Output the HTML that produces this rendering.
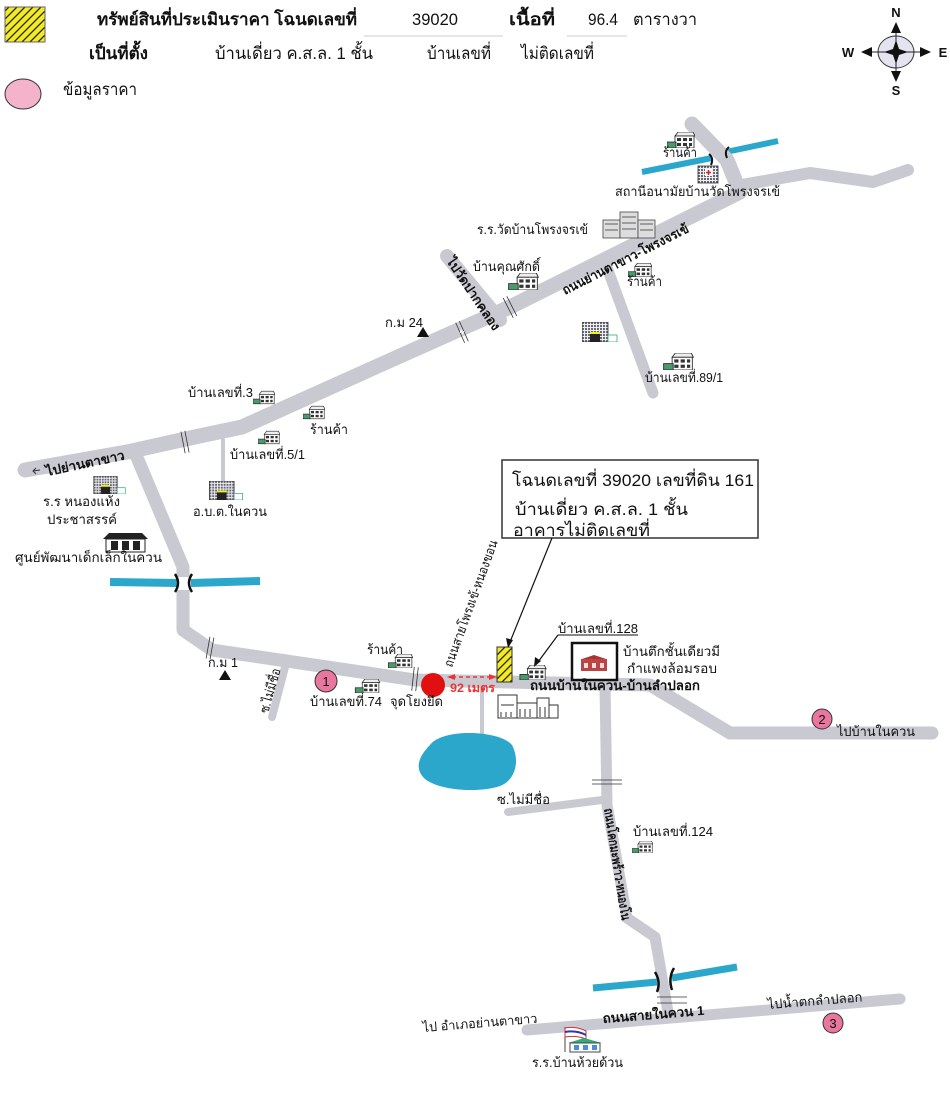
<!DOCTYPE html>
<html><head><meta charset="utf-8"><style>
html,body{margin:0;padding:0;background:#fff;}
svg{display:block;}
text{font-family:"Liberation Sans","DejaVu Sans","Noto Sans CJK SC",sans-serif;fill:#111;}
.l{font-size:13px;}
.b{font-size:13px;font-weight:bold;}
.h{font-size:17px;}
.hb{font-size:17px;font-weight:bold;}
.r{fill:none;stroke:#c9c9d2;stroke-linecap:round;stroke-linejoin:round;}
.w{fill:none;stroke:#2ba7cc;stroke-linecap:butt;}
</style></head><body>
<svg width="950" height="1106" viewBox="0 0 950 1106" xmlns="http://www.w3.org/2000/svg">
<defs>
<pattern id="hatch" width="8" height="8" patternUnits="userSpaceOnUse">
<rect width="8" height="8" fill="#f2ea28"/>
<path d="M-2,2 L2,-2 M0,8 L8,0 M6,10 L10,6" stroke="#222" stroke-width="1.3"/>
</pattern>
<pattern id="grid" width="3" height="3" patternUnits="userSpaceOnUse">
<rect width="3" height="3" fill="#eee"/><rect width="2" height="2" fill="#667"/>
</pattern>
<symbol id="hs" viewBox="0 0 28 16">
<path d="M8 4 L11 0 L26 0 L28 4 Z" fill="#eee" stroke="#222" stroke-width=".8"/>
<rect x="8" y="4" width="19" height="12" fill="#fff" stroke="#222" stroke-width=".8"/>
<rect x="10" y="6" width="4" height="3" fill="#333"/><rect x="16" y="6" width="4" height="3" fill="#333"/><rect x="22" y="6" width="3" height="3" fill="#333"/>
<rect x="10" y="11" width="4" height="3" fill="#333"/><rect x="16" y="11" width="4" height="3" fill="#333"/><rect x="22" y="11" width="3" height="3" fill="#333"/>
<rect x="0" y="10" width="9" height="6" fill="#4a9a6a" stroke="#222" stroke-width=".8"/>
</symbol>
<symbol id="of" viewBox="0 0 36 20">
<rect x="0" y="0" width="26" height="20" fill="url(#grid)" stroke="#333" stroke-width=".8"/>
<rect x="8" y="11" width="10" height="9" fill="#222"/><rect x="8" y="10" width="10" height="2" fill="#ee2"/>
<rect x="26" y="13" width="9" height="7" fill="#fff" stroke="#3a7" stroke-width=".8"/>
</symbol>
</defs>

<!-- Header -->
<rect x="5" y="7" width="40" height="35" fill="url(#hatch)" stroke="#666" stroke-width="1"/>
<text class="hb" x="97" y="25" textLength="260" lengthAdjust="spacingAndGlyphs">ทรัพย์สินที่ประเมินราคา โฉนดเลขที่</text>
<text class="h" x="412" y="25" textLength="46" lengthAdjust="spacingAndGlyphs">39020</text>
<line x1="364" y1="36" x2="503" y2="36" stroke="#ccc" stroke-width="1"/>
<text class="hb" x="509" y="25" textLength="46" lengthAdjust="spacingAndGlyphs">เนื้อที่</text>
<text class="h" x="588" y="25" textLength="30" lengthAdjust="spacingAndGlyphs">96.4</text>
<line x1="567" y1="36" x2="627" y2="36" stroke="#ccc" stroke-width="1"/>
<text class="h" x="633" y="25" textLength="64" lengthAdjust="spacingAndGlyphs">ตารางวา</text>
<text class="hb" x="89" y="59" textLength="59" lengthAdjust="spacingAndGlyphs">เป็นที่ตั้ง</text>
<text class="h" x="215" y="59" textLength="158" lengthAdjust="spacingAndGlyphs">บ้านเดี่ยว ค.ส.ล.  1 ชั้น</text>
<text class="h" x="427" y="59" textLength="64" lengthAdjust="spacingAndGlyphs">บ้านเลขที่</text>
<text class="h" x="521" y="59" textLength="73" lengthAdjust="spacingAndGlyphs">ไม่ติดเลขที่</text>
<ellipse cx="23" cy="94" rx="18" ry="15" fill="#f4b3cb" stroke="#333" stroke-width="1"/>
<text class="h" x="63" y="95" textLength="74" lengthAdjust="spacingAndGlyphs">ข้อมูลราคา</text>

<!-- Compass -->
<ellipse cx="896" cy="52" rx="18" ry="16" fill="#e4e4f0" stroke="#333" stroke-width="1"/>
<line x1="896" y1="28" x2="896" y2="76" stroke="#222" stroke-width="1"/>
<line x1="866" y1="52" x2="926" y2="52" stroke="#222" stroke-width="1"/>
<path d="M896,22 L891,33 L901,33 Z M896,82 L891,71 L901,71 Z M861,52 L872,47 L872,57 Z M931,52 L920,47 L920,57 Z" fill="#111"/>
<path d="M896,40 L899,49 L908,52 L899,55 L896,64 L893,55 L884,52 L893,49 Z" fill="#111"/>
<text x="896" y="17" font-size="13" font-weight="bold" text-anchor="middle">N</text>
<text x="896" y="95" font-size="13" font-weight="bold" text-anchor="middle">S</text>
<text x="848" y="57" font-size="13" font-weight="bold" text-anchor="middle">W</text>
<text x="943" y="57" font-size="13" font-weight="bold" text-anchor="middle">E</text>

<!-- Rivers -->
<path class="w" stroke-width="6" d="M642,172 L712,158 M726,152 L778,141"/>
<path class="w" stroke-width="8" d="M110,582 L177,583 M191,583 L260,581"/>
<path class="w" stroke-width="7" d="M593,988 L657,982 M672,978 L737,967"/>

<!-- Roads -->
<path class="r" stroke-width="15" d="M692,124 L727,160 L740,192 L510,307 L400,356 L242,427 L190,438 L127,452 L25,470"/>
<path class="r" stroke-width="12" d="M736,186 L810,173 L873,182 L908,170"/>
<path class="r" stroke-width="13" d="M136,455 L183,567 L183,630 L212,650 L415,680 L650,685 L730,733 L932,733"/>
<path class="r" stroke-width="11" d="M605,686 L607,805 L627,918 L655,937 L668,1012"/>
<path class="r" stroke-width="11" d="M527,1030 L900,999"/>
<path class="r" stroke-width="11" d="M605,262 L653,393"/>
<path class="r" stroke-width="14" d="M447,256 L500,320"/>
<path class="r" stroke-width="4" d="M223,440 L223,485"/>
<path class="r" stroke-width="8" d="M285,667 L272,717"/>
<path class="r" stroke-width="8" d="M602,800 L508,812"/>
<path class="r" stroke-width="4" d="M482,688 L482,737"/>

<!-- bridges -->
<rect x="178" y="577" width="11" height="13" fill="#fff"/>
<path d="M175,574 Q181,583 175,592 M192,574 Q186,583 192,592" fill="none" stroke="#111" stroke-width="2.5"/>
<path d="M709,154 Q714,158 711,165 M729,147 Q724,151 727,158" fill="none" stroke="#111" stroke-width="2"/>
<path d="M655,972 Q661,982 657,992 M674,968 Q668,978 672,990" fill="none" stroke="#111" stroke-width="2.5"/>

<!-- break marks -->
<g stroke="#333" stroke-width="0.8" fill="none">
<g transform="translate(462,332) rotate(-24)"><path d="M-2,-11 L-2,11 M2,-11 L2,11"/><path d="M-2,0 L0,-2 L0,2 L2,0" stroke="#fff" stroke-width="1"/></g>
<g transform="translate(510,307) rotate(-27)"><path d="M-2,-11 L-2,11 M2,-11 L2,11"/></g>
<g transform="translate(185,442) rotate(-11)"><path d="M-2,-11 L-2,11 M2,-11 L2,11"/></g>
<g transform="translate(210,648) rotate(10)"><path d="M-2,-11 L-2,11 M2,-11 L2,11"/></g>
<g transform="translate(415,679) rotate(6)"><path d="M-2,-12 L-2,12 M2,-12 L2,12"/></g>
<g transform="translate(607,782) rotate(90)"><path d="M-2,-15 L-2,15 M2,-15 L2,15"/></g>
<g transform="translate(672,1000) rotate(90)"><path d="M-3,-15 L-3,15 M3,-15 L3,15"/></g>
</g>

<!-- Lake -->
<path d="M430,745 C442,728 500,730 512,745 C520,760 516,780 500,786 C480,793 440,791 425,779 C413,768 420,755 430,745 Z" fill="#2ba7cc"/>

<!-- Icons -->
<use href="#hs" x="667" y="132" width="28" height="16"/>
<g transform="translate(698,166)"><rect width="20" height="17" fill="url(#grid)" stroke="#333" stroke-width=".8"/><rect x="7" y="3" width="7" height="7" fill="#fff"/><path d="M10.5,4 v5 M8,6.5 h5" stroke="#d22" stroke-width="1.6"/></g>
<g transform="translate(603,212)" fill="#ddd" stroke="#444" stroke-width=".8"><rect x="0" y="8" width="17" height="18"/><rect x="17" y="0" width="18" height="26"/><rect x="35" y="8" width="17" height="18"/>
<path d="M2,12 h13 M2,18 h13 M19,5 h14 M19,11 h14 M19,17 h14 M37,12 h13 M37,18 h13" stroke="#333"/></g>
<use href="#hs" x="507" y="273" width="33" height="17"/>
<use href="#hs" x="628" y="263" width="24" height="14"/>
<use href="#of" x="582" y="322" width="36" height="20"/>
<use href="#hs" x="662" y="353" width="33" height="17"/>
<use href="#hs" x="253" y="388" width="22" height="19"/>
<use href="#hs" x="303" y="403" width="22" height="19"/>
<use href="#hs" x="258" y="428" width="22" height="19"/>
<use href="#of" x="92" y="476" width="36" height="18"/>
<use href="#of" x="208" y="481" width="37" height="19"/>
<g transform="translate(103,533)"><path d="M0,6 L6,0 L39,0 L45,6 Z" fill="#222"/><rect x="3" y="6" width="39" height="13" fill="#fff" stroke="#222" stroke-width="1"/><rect x="8" y="8" width="7" height="9" fill="#222"/><rect x="19" y="8" width="7" height="9" fill="#222"/><rect x="30" y="8" width="7" height="9" fill="#222"/></g>
<use href="#hs" x="388" y="654" width="25" height="14"/>
<use href="#hs" x="352" y="679" width="31" height="14"/>
<use href="#hs" x="518" y="665" width="30" height="15"/>
<use href="#hs" x="632" y="841" width="21" height="12"/>
<g transform="translate(498,695)" fill="#fff" stroke="#333" stroke-width="1"><rect x="0" y="0" width="19" height="23"/><rect x="19" y="8" width="20" height="15"/><rect x="39" y="3" width="12" height="20"/><rect x="51" y="10" width="9" height="13"/><path d="M3,10 h13 M22,14 v8 M27,14 v8 M32,14 v8 M42,12 v10 M47,12 v10 M3,17 v5 M8,17 v5 M13,17 v5" /></g>
<g transform="translate(562,1027)"><line x1="3" y1="0" x2="3" y2="25" stroke="#444" stroke-width="1"/><path d="M3,1 Q14,-1 24,4 L24,12 Q14,8 3,10 Z" fill="#fff" stroke="#c33" stroke-width="1"/><path d="M3,5 Q14,3 24,8" stroke="#33a" stroke-width="2" fill="none"/><path d="M6,16 L22,11 L40,16 Z" fill="#3a7"/><rect x="8" y="16" width="30" height="9" fill="#fff" stroke="#445" stroke-width="1"/><rect x="12" y="18" width="5" height="5" fill="#4a8fd0"/><rect x="21" y="18" width="5" height="5" fill="#4a8fd0"/><rect x="30" y="18" width="5" height="5" fill="#4a8fd0"/></g>

<!-- Target property -->
<rect x="497" y="647" width="15" height="35" fill="url(#hatch)" stroke="#333" stroke-width="1"/>
<rect x="572" y="643" width="45" height="37" fill="#fff" stroke="#111" stroke-width="2.5"/>
<g transform="translate(580,655)"><path d="M2,4 L14,0 L26,4 Z" fill="#a33"/><rect x="1" y="4" width="26" height="12" fill="#b44"/><rect x="4" y="8" width="4" height="5" fill="#fdd"/><rect x="12" y="8" width="4" height="5" fill="#fdd"/><rect x="20" y="8" width="4" height="5" fill="#fdd"/></g>

<!-- Callout -->
<rect x="502" y="460" width="256" height="78" fill="#fff" stroke="#333" stroke-width="1.5"/>
<text x="512" y="486" font-size="17" textLength="242" lengthAdjust="spacingAndGlyphs">โฉนดเลขที่ 39020 เลขที่ดิน 161</text>
<text x="515" y="515" font-size="17" textLength="173" lengthAdjust="spacingAndGlyphs">บ้านเดี่ยว ค.ส.ล. 1 ชั้น</text>
<text x="513" y="536" font-size="17" textLength="137" lengthAdjust="spacingAndGlyphs">อาคารไม่ติดเลขที่</text>
<line x1="552" y1="538" x2="510" y2="642" stroke="#111" stroke-width="1.2"/>
<path d="M508,648 L506,638 L513,640 Z" fill="#111"/>
<line x1="558" y1="635" x2="638" y2="635" stroke="#111" stroke-width="1"/>
<line x1="558" y1="635" x2="538" y2="662" stroke="#111" stroke-width="1.2"/>
<path d="M534,667 L535,657 L541,661 Z" fill="#111"/>

<!-- Reference point -->
<circle cx="433" cy="685" r="12" fill="#e01010"/>
<line x1="452" y1="677" x2="492" y2="677" stroke="#e33" stroke-width="1.5" stroke-dasharray="4,3"/>
<path d="M447,677 L455,674 L455,680 Z M497,677 L489,674 L489,680 Z" fill="#e33"/>
<text x="450" y="692" font-size="12" font-weight="bold" fill="#e33" style="fill:#e33" textLength="45" lengthAdjust="spacingAndGlyphs">92 เมตร</text>

<!-- Markers -->
<circle cx="326" cy="681" r="11" fill="#e8769e" stroke="#333" stroke-width="1"/>
<text x="326" y="686" font-size="13" text-anchor="middle">1</text>
<circle cx="822" cy="719" r="10" fill="#e8769e" stroke="#333" stroke-width="1"/>
<text x="822" y="724" font-size="13" text-anchor="middle">2</text>
<circle cx="833" cy="1023" r="10" fill="#e8769e" stroke="#333" stroke-width="1"/>
<text x="833" y="1028" font-size="13" text-anchor="middle">3</text>
<path d="M423,327 L417,337 L429,337 Z M225,670 L219,680 L231,680 Z" fill="#111"/>

<!-- Labels -->
<text class="l" x="663" y="157" textLength="34" lengthAdjust="spacingAndGlyphs">ร้านค้า</text>
<text class="l" x="615" y="196" textLength="165" lengthAdjust="spacingAndGlyphs">สถานีอนามัยบ้านวัดโพรงจรเข้</text>
<text class="l" x="477" y="234" textLength="111" lengthAdjust="spacingAndGlyphs">ร.ร.วัดบ้านโพรงจรเข้</text>
<text class="l" x="473" y="271" textLength="67" lengthAdjust="spacingAndGlyphs">บ้านคุณศักดิ์</text>
<text class="l" x="627" y="286" textLength="35" lengthAdjust="spacingAndGlyphs">ร้านค้า</text>
<text class="l" x="645" y="382" textLength="78" lengthAdjust="spacingAndGlyphs">บ้านเลขที่.89/1</text>
<text class="l" x="385" y="327" textLength="38" lengthAdjust="spacingAndGlyphs">ก.ม 24</text>
<text class="l" x="188" y="397" textLength="65" lengthAdjust="spacingAndGlyphs">บ้านเลขที่.3</text>
<text class="l" x="310" y="434" textLength="38" lengthAdjust="spacingAndGlyphs">ร้านค้า</text>
<text class="l" x="230" y="459" textLength="75" lengthAdjust="spacingAndGlyphs">บ้านเลขที่.5/1</text>
<text class="l" x="43" y="506" textLength="77" lengthAdjust="spacingAndGlyphs">ร.ร หนองแห้ง</text>
<text class="l" x="47" y="524" textLength="70" lengthAdjust="spacingAndGlyphs">ประชาสรรค์</text>
<text class="l" x="15" y="562" textLength="147" lengthAdjust="spacingAndGlyphs">ศูนย์พัฒนาเด็กเล็กในควน</text>
<text class="l" x="193" y="516" textLength="74" lengthAdjust="spacingAndGlyphs">อ.บ.ต.ในควน</text>
<text class="l" x="558" y="633" textLength="80" lengthAdjust="spacingAndGlyphs">บ้านเลขที่.128</text>
<text class="l" x="623" y="656" textLength="97" lengthAdjust="spacingAndGlyphs">บ้านตึกชั้นเดียวมี</text>
<text class="l" x="627" y="673" textLength="90" lengthAdjust="spacingAndGlyphs">กำแพงล้อมรอบ</text>
<text class="b" x="530" y="690" textLength="170" lengthAdjust="spacingAndGlyphs">ถนนบ้านในควน-บ้านลำปลอก</text>
<text class="l" x="367" y="654" textLength="36" lengthAdjust="spacingAndGlyphs">ร้านค้า</text>
<text class="l" x="310" y="706" textLength="72" lengthAdjust="spacingAndGlyphs">บ้านเลขที่.74</text>
<text class="l" x="390" y="706" textLength="53" lengthAdjust="spacingAndGlyphs">จุดโยงยึด</text>
<text class="l" x="208" y="667" textLength="30" lengthAdjust="spacingAndGlyphs">ก.ม 1</text>
<text class="l" x="837" y="736" textLength="78" lengthAdjust="spacingAndGlyphs">ไปบ้านในควน</text>
<text class="l" x="497" y="804" textLength="53" lengthAdjust="spacingAndGlyphs">ซ.ไม่มีชื่อ</text>
<text class="l" x="633" y="836" textLength="80" lengthAdjust="spacingAndGlyphs">บ้านเลขที่.124</text>
<text class="l" x="532" y="1067" textLength="91" lengthAdjust="spacingAndGlyphs">ร.ร.บ้านห้วยด้วน</text>

<!-- Rotated road labels -->
<text class="b" transform="translate(565,295) rotate(-27)" textLength="140" lengthAdjust="spacingAndGlyphs">ถนนย่านตาขาว-โพรงจรเข้</text>
<text class="b" transform="translate(446,261) rotate(56)" textLength="85" lengthAdjust="spacingAndGlyphs">ไปวัดปากคลอง</text>
<text class="b" transform="translate(47,476) rotate(-12)" textLength="80" lengthAdjust="spacingAndGlyphs">ไปย่านตาขาว</text>
<text class="l" transform="translate(268,714) rotate(-74)" textLength="46" lengthAdjust="spacingAndGlyphs">ซ.ไม่มีชื่อ</text>
<text class="l" transform="translate(452,668) rotate(-70)" textLength="134" lengthAdjust="spacingAndGlyphs">ถนนสายโพรงเข้-หนองขอน</text>
<text class="b" transform="translate(604,809) rotate(81)" textLength="113" lengthAdjust="spacingAndGlyphs">ถนนโคกมะพร้าว-หนองโน</text>
<text class="l" transform="translate(423,1032) rotate(-4.6)" textLength="115" lengthAdjust="spacingAndGlyphs">ไป อำเภอย่านตาขาว</text>
<text class="b" transform="translate(603,1023) rotate(-4.6)" textLength="102" lengthAdjust="spacingAndGlyphs">ถนนสายในควน 1</text>
<text class="l" transform="translate(768,1009) rotate(-4.6)" textLength="95" lengthAdjust="spacingAndGlyphs">ไปน้ำตกลำปลอก</text>
<path d="M40,470 L33,471 M36,468 L33,471 L36,474" stroke="#333" stroke-width="1" fill="none"/>
</svg>
</body></html>
